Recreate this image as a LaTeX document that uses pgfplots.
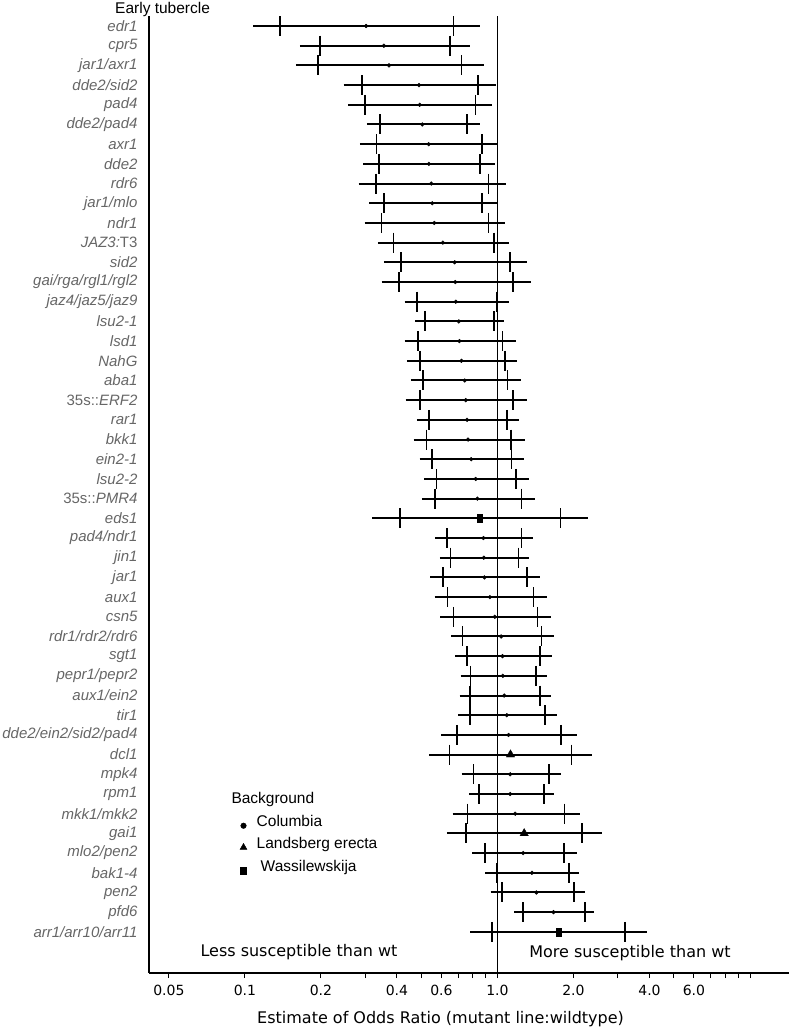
\documentclass[border=0pt]{standalone}
\usepackage{fontspec}
\setmainfont{Liberation Sans}
\newfontfamily\dejavu{DejaVu Sans}
\usepackage{pgfplots}
\usepackage{pgfplotstable}
\pgfplotsset{compat=1.18}
\definecolor{labgray}{gray}{0.4}

% i = row from top; lo/hi = outer interval; tl/tr = inner ticks; est = estimate; bg: 1 Columbia, 2 Landsberg erecta, 3 Wassilewskija
\pgfplotstableread{
i lo tl est tr hi bg
1 0.108 0.138 0.302 0.669 0.856 1
2 0.165 0.198 0.355 0.647 0.777 1
3 0.159 0.195 0.372 0.720 0.883 1
4 0.246 0.290 0.489 0.835 0.991 1
5 0.256 0.299 0.492 0.818 0.955 1
6 0.304 0.343 0.504 0.756 0.856 1
7 0.285 0.332 0.534 0.869 1.006 1
8 0.294 0.339 0.535 0.851 0.982 1
9 0.282 0.330 0.547 0.921 1.082 1
10 0.311 0.356 0.552 0.869 1.000 1
11 0.298 0.347 0.562 0.921 1.073 1
12 0.336 0.388 0.608 0.966 1.112 1
13 0.355 0.415 0.677 1.119 1.311 1
14 0.348 0.407 0.681 1.154 1.356 1
15 0.429 0.479 0.684 0.991 1.106 1
16 0.473 0.518 0.703 0.967 1.063 1
17 0.429 0.484 0.707 1.047 1.182 1
18 0.438 0.493 0.720 1.069 1.200 1
19 0.454 0.508 0.742 1.096 1.234 1
20 0.433 0.492 0.749 1.151 1.311 1
21 0.480 0.536 0.758 1.089 1.219 1
22 0.466 0.523 0.765 1.133 1.280 1
23 0.492 0.551 0.787 1.137 1.268 1
24 0.512 0.573 0.820 1.186 1.328 1
25 0.502 0.566 0.833 1.245 1.402 1
26 0.320 0.410 0.851 1.778 2.275 3
27 0.567 0.631 0.880 1.245 1.381 1
28 0.592 0.651 0.883 1.211 1.335 1
29 0.542 0.610 0.888 1.307 1.468 1
30 0.564 0.635 0.933 1.390 1.565 1
31 0.594 0.669 0.976 1.442 1.623 1
32 0.655 0.728 1.034 1.495 1.668 1
33 0.681 0.756 1.047 1.472 1.638 1
34 0.715 0.783 1.050 1.424 1.565 1
35 0.709 0.777 1.063 1.472 1.623 1
36 0.700 0.777 1.089 1.546 1.719 1
37 0.598 0.692 1.106 1.783 2.064 1
38 0.536 0.645 1.126 1.966 2.368 2
39 0.722 0.803 1.123 1.603 1.783 1
40 0.772 0.846 1.123 1.527 1.673 1
41 0.665 0.762 1.175 1.845 2.115 1
42 0.631 0.753 1.276 2.161 2.586 2
43 0.796 0.891 1.264 1.834 2.062 1
44 0.895 0.993 1.369 1.918 2.104 1
45 0.939 1.042 1.426 2.013 2.228 1
46 1.166 1.264 1.667 2.217 2.422 1
47 0.781 0.954 1.749 3.206 3.920 3
}\data

\begin{document}
\begin{tikzpicture}
\begin{axis}[
  at={(0,0)}, anchor=south west,
  scale only axis, width=640bp, height=957bp,
  xmode=log, xmin=0.0417, xmax=14.27,
  ymin=0.492, ymax=49.09, y dir=reverse,
  axis x line*=bottom, axis y line*=left,
  axis line style={line width=1.5bp, black},
  xtick={0.05,0.1,0.2,0.4,0.6,1,2,4,6},
  xticklabels={0.05,0.1,0.2,0.4,0.6,1.0,2.0,4.0,6.0},
  minor xtick={0.3,0.5,0.7,0.8,0.9,3,5,7,8,9,10},
  xtick align=outside,
  major tick length=5bp, minor tick length=5bp,
  tick style={line width=1bp, black},
  xticklabel style={font=\dejavu\fontsize{14bp}{16bp}\selectfont, yshift=-3.5bp},
  ytick={1,...,47},
  yticklabels={{\textit{edr1}},{\textit{cpr5}},{\textit{jar1/axr1}},{\textit{dde2/sid2}},{\textit{pad4}},{\textit{dde2/pad4}},{\textit{axr1}},{\textit{dde2}},{\textit{rdr6}},{\textit{jar1/mlo}},{\textit{ndr1}},{\textit{JAZ3:}T3},{\textit{sid2}},{\textit{gai/rga/rgl1/rgl2}},{\textit{jaz4/jaz5/jaz9}},{\textit{lsu2-1}},{\textit{lsd1}},{\textit{NahG}},{\textit{aba1}},{35s::\textit{ERF2}},{\textit{rar1}},{\textit{bkk1}},{\textit{ein2-1}},{\textit{lsu2-2}},{35s::\textit{PMR4}},{\textit{eds1}},{\textit{pad4/ndr1}},{\textit{jin1}},{\textit{jar1}},{\textit{aux1}},{\textit{csn5}},{\textit{rdr1/rdr2/rdr6}},{\textit{sgt1}},{\textit{pepr1/pepr2}},{\textit{aux1/ein2}},{\textit{tir1}},{\textit{dde2/ein2/sid2/pad4}},{\textit{dcl1}},{\textit{mpk4}},{\textit{rpm1}},{\textit{mkk1/mkk2}},{\textit{gai1}},{\textit{mlo2/pen2}},{\textit{bak1-4}},{\textit{pen2}},{\textit{pfd6}},{\textit{arr1/arr10/arr11}}},
  ytick style={draw=none},
  yticklabel style={font=\fontsize{15bp}{18bp}\selectfont, text=labgray, xshift=-8bp},
  clip=false,
  xlabel={Estimate of Odds Ratio (mutant line:wildtype)},
  xlabel style={font=\dejavu\fontsize{16bp}{19bp}\selectfont, at={(axis description cs:0.4556,-0.0481)}, anchor=center},
  legend style={at={(axis description cs:0.1383,0.1886)}, anchor=north west, draw=none, fill=none,
    inner sep=0pt, outer sep=0pt, row sep=7.7bp, column sep=7.2bp,
    font=\fontsize{15.5bp}{18bp}\selectfont,
    nodes={inner sep=0pt, text height=11bp, text depth=4bp}},
  legend cell align=left,
]
% outer intervals
\pgfplotsinvokeforeach{0,...,46}{
  \pgfplotstablegetelem{#1}{lo}\of\data \let\xlo\pgfplotsretval
  \pgfplotstablegetelem{#1}{hi}\of\data \let\xhi\pgfplotsretval
  \pgfplotstablegetelem{#1}{i}\of\data \let\yi\pgfplotsretval
  \edef\tmp{\noexpand\addplot[black, line width=2bp, forget plot] coordinates {(\xlo,\yi) (\xhi,\yi)};}\tmp
}
% inner interval ticks
\addplot[only marks, mark=|, mark size=10bp, mark options={line width=1.7bp, black}, forget plot] table[x=tl, y=i]{\data};
\addplot[only marks, mark=|, mark size=10bp, mark options={line width=1.7bp, black}, forget plot] table[x=tr, y=i]{\data};
% reference line at 1
\addplot[black, line width=1.6bp, forget plot] coordinates {(1,0.492) (1,49.09)};
% estimates
\addplot[only marks, mark=*, mark size=1.9bp, black, forget plot, restrict expr to domain={\thisrow{bg}}{1:1}] table[x=est, y=i]{\data};
\addplot[only marks, mark=triangle*, mark size=4.8bp, black, forget plot, restrict expr to domain={\thisrow{bg}}{2:2}] table[x=est, y=i]{\data};
\addplot[only marks, mark=square*, mark size=4.15bp, mark options={xscale=0.64}, black, forget plot, restrict expr to domain={\thisrow{bg}}{3:3}] table[x=est, y=i]{\data};

\addlegendimage{empty legend}
\addlegendentry{\hspace*{-25.2bp}Background}
\addlegendimage{legend image code/.code={\path[draw=none, fill=none] (-6bp,-7.5bp) rectangle (6bp,7.5bp); \draw[black] plot[only marks, mark=*, mark size=2.8bp] coordinates {(0bp,-3bp)};}}
\addlegendentry{Columbia}
\addlegendimage{legend image code/.code={\path[draw=none, fill=none] (-6bp,-7.5bp) rectangle (6bp,7.5bp); \draw[black] plot[only marks, mark=triangle*, mark size=4bp] coordinates {(0bp,-2bp)};}}
\addlegendentry{Landsberg erecta}
\addlegendimage{legend image code/.code={\path[draw=none, fill=none] (-6bp,-7.5bp) rectangle (6bp,7.5bp); \draw[black] plot[only marks, mark=square*, mark size=3.5bp, mark options={xscale=0.85}] coordinates {(0bp,-3bp)};}}
\addlegendentry{\hspace*{4bp}Wassilewskija}

\node[font=\dejavu\fontsize{16bp}{19bp}\selectfont] at (axis cs:0.1637,48.03) {Less susceptible than wt};
\node[font=\dejavu\fontsize{16bp}{19bp}\selectfont] at (axis cs:3.349,48.08) {More susceptible than wt};
\node[anchor=base west, inner sep=0pt, font=\fontsize{15.5bp}{18bp}\selectfont] at (axis description cs:-0.0531,1.0031) {Early tubercle};
\end{axis}
\pgfresetboundingbox
\path[use as bounding box] (-149bp,-56bp) rectangle (640bp,973bp);
\end{tikzpicture}
\end{document}
